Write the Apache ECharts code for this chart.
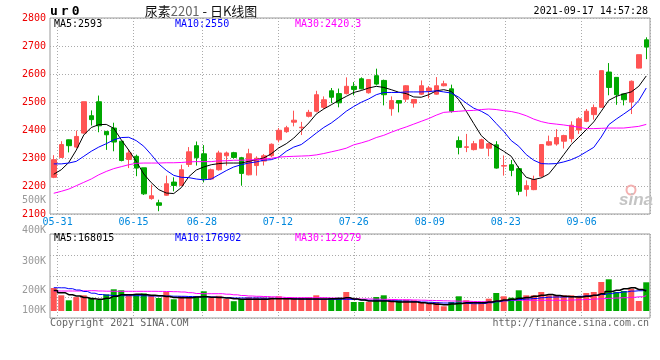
<!DOCTYPE html>
<html><head><meta charset="utf-8">
<script src="https://cdn.jsdelivr.net/npm/echarts@6/dist/echarts.min.js"></script>
<style>html,body{margin:0;padding:0;background:#fff}#c{width:660px;height:360px}</style>
</head><body><div id="c"></div>
<script>
// ---------- data ----------
const dates = ['05-28','05-31','06-01','06-02','06-03','06-04','06-07','06-08','06-09','06-10',
 '06-11','06-15','06-16','06-17','06-18','06-21','06-22','06-23','06-24','06-25',
 '06-28','06-29','06-30','07-01','07-02','07-05','07-06','07-07','07-08','07-09',
 '07-12','07-13','07-14','07-15','07-16','07-19','07-20','07-21','07-22','07-23',
 '07-26','07-27','07-28','07-29','07-30','08-02','08-03','08-04','08-05','08-06',
 '08-09','08-10','08-11','08-12','08-13','08-16','08-17','08-18','08-19','08-20',
 '08-23','08-24','08-25','08-26','08-27','08-30','08-31','09-01','09-02','09-03',
 '09-06','09-07','09-08','09-09','09-10','09-13','09-14','09-15','09-16','09-17'];
const gridDates = dates.slice(1);
const dateLabels = ['05-31','06-15','06-28','07-12','07-26','08-09','08-23','09-06'];

const opens = [2231,2302,2365,2339,2389,2451,2501,2395,2407,2360, 2295,2306,2265,2155,2140,2167,2214,2202,2277,2344,
 2315,2225,2258,2308,2319,2301,2240,2273,2289,2308, 2365,2394,2428,2408,2449,2467,2481,2540,2530,2530,
 2556,2583,2533,2594,2577,2476,2505,2510,2496,2528, 2540,2528,2558,2547,2362,2338,2330,2335,2335,2347,
 2271,2276,2262,2188,2187,2235,2346,2350,2360,2369, 2400,2431,2455,2481,2607,2588,2529,2500,2621,2722];
const closes = [2294,2348,2344,2377,2501,2437,2415,2383,2357,2291, 2318,2264,2172,2165,2131,2208,2202,2258,2322,2301,
 2226,2258,2318,2318,2302,2245,2315,2299,2308,2349, 2399,2408,2435,2410,2463,2526,2508,2517,2497,2556,
 2545,2547,2580,2564,2526,2505,2496,2558,2509,2558, 2550,2558,2565,2467,2338,2340,2351,2365,2351,2264,
 2273,2256,2181,2201,2223,2348,2358,2373,2380,2417, 2440,2467,2480,2612,2552,2526,2508,2574,2669,2696];
const lows = [2228,2300,2320,2335,2387,2416,2392,2329,2324,2288, 2264,2235,2168,2151,2110,2165,2181,2200,2268,2273,
 2213,2222,2255,2273,2298,2201,2238,2237,2273,2303, 2356,2390,2413,2382,2445,2463,2475,2496,2481,2527,
 2524,2545,2530,2560,2488,2451,2463,2500,2480,2525, 2513,2526,2556,2462,2313,2321,2327,2334,2306,2262,
 2237,2235,2167,2163,2185,2230,2344,2344,2334,2356, 2386,2428,2437,2480,2524,2490,2488,2457,2620,2653];
const highs = [2310,2360,2366,2398,2501,2470,2523,2395,2426,2360, 2330,2312,2265,2205,2151,2237,2231,2276,2339,2359,
 2346,2262,2326,2323,2322,2304,2333,2306,2314,2352, 2407,2415,2469,2429,2472,2540,2520,2550,2548,2588,
 2571,2588,2582,2619,2580,2520,2506,2560,2510,2577, 2557,2589,2576,2562,2377,2386,2361,2369,2353,2360,
 2309,2293,2270,2220,2237,2348,2380,2403,2383,2431, 2446,2475,2491,2612,2639,2589,2530,2577,2669,2731];

const ma5 = [2242,2258,2284,2328,2382,2409,2419,2420,2406,2365, 2328,2288,2243,2212,2187,2175,2173,2194,2233,2257,
 2268,2276,2280,2282,2282,2282,2288,2294,2300,2315, 2336,2351,2371,2398,2425,2457,2475,2490,2506,2520,
 2534,2541,2550,2556,2552,2544,2535,2530,2518,2517, 2526,2540,2544,2538,2508,2467,2423,2380,2356,2340,
 2324,2306,2264,2231,2223,2229,2243,2276,2312,2348, 2374,2401,2429,2467,2506,2520,2529,2536,2556,2593];
const ma10 = [2279,2279,2282,2288,2306,2324,2339,2351,2365,2373, 2374,2362,2342,2312,2279,2256,2238,2231,2230,2225,
 2222,2225,2240,2255,2268,2276,2282,2286,2292,2294, 2303,2324,2339,2348,2368,2389,2409,2425,2445,2467,
 2484,2499,2511,2526,2534,2534,2534,2536,2536,2536, 2537,2540,2536,2532,2517,2496,2478,2467,2452,2423,
 2395,2362,2342,2312,2292,2280,2279,2280,2286,2294, 2306,2322,2338,2375,2419,2439,2457,2476,2505,2550];
const ma30 = [2174,2181,2189,2201,2213,2225,2240,2252,2262,2269, 2276,2281,2282,2282,2282,2283,2283,2284,2286,2287,
 2287,2287,2290,2290,2292,2292,2293,2294,2296,2299, 2303,2305,2306,2307,2308,2311,2316,2322,2328,2335,
 2347,2354,2362,2373,2381,2392,2402,2411,2421,2431, 2441,2453,2463,2465,2467,2469,2470,2473,2475,2473,
 2469,2466,2460,2451,2439,2430,2424,2421,2418,2414, 2410,2405,2405,2406,2407,2407,2407,2410,2413,2420];

const volumes = [193200,131900,89900,116600,131900,111700,94000,140300,182300,173900,
 131900,138600,148000,134400,109200,159600,98300,123500,110900,117600,
 165500,109200,127700,100800,82300,100800,115100,113400,113400,115100,
 123500,105800,110900,110900,113400,131900,103300,105000,111700,159600,
 75600,75600,75600,117600,131900,94900,89900,94900,89900,75600,
 61300,75600,39500,75600,123500,89900,61300,75600,103300,151200,
 123500,111700,173900,131900,131900,159600,131900,131900,131900,131900,
 123500,151200,159600,243600,266300,159600,168000,187300,84000,241100];
const volMa5 = [172200,153700,136900,126000,113400,103300,98300,107500,124300,136100,
 136900,140300,136900,131900,128500,121800,113400,111700,111700,117600,
 119300,115900,113400,109200,103300,99100,98300,98300,98300,102500,
 103300,103300,100800,100800,100800,100800,100800,103300,105000,111700,
 100800,92400,84000,84000,84000,79800,75600,75600,75600,69700,
 63000,57100,52900,58800,63800,69700,69700,69700,75600,84000,
 92400,98300,106700,113400,123500,131900,138600,130200,123500,120100,
 117600,123500,131900,145300,163800,173900,187300,194900,180600,168000];
const volMa10 = [195700,194900,187300,176400,163800,149500,138600,132700,130200,128500,
 128500,128500,127700,126000,126000,126000,124300,123500,121800,120100,
 119300,117600,115100,111700,109200,109200,109200,109200,107500,106700,
 105000,103300,102500,100800,99100,98300,98300,98300,98300,98300,
 96600,92400,89900,89900,88200,85700,84000,82300,79800,75600,
 73100,68900,67200,67200,65500,63000,61300,63000,69700,78100,
 85700,92400,96600,100800,105000,111700,115900,117600,117600,120100,
 123500,127700,131900,138600,146000,154000,161000,167000,170000,176900];
const volMa30 = [168000,168000,168000,168000,169700,170500,168000,166300,165500,165500,
 165500,165500,165500,165500,164600,163800,162100,159600,153700,147000,
 145300,145300,145300,141100,136100,130200,126000,123500,121800,119300,
 115900,113400,111700,111700,111700,111700,111700,109200,107500,105000,
 102500,100800,100800,99100,98300,96600,94900,94100,92400,90700,
 89000,87400,85700,84000,82300,81500,79800,78100,79800,84000,
 87400,89900,89900,89900,89900,89900,89900,89900,89900,92400,
 94900,96600,100800,103300,106700,109200,111700,115100,119300,128000];

const volTickLabels = ['500K','400K','300K','200K','100K'];
const priceHeader = {ma5:'2593', ma10:'2550', ma30:'2420.3'};
const volHeader = {ma5:'168015', ma10:'176902', ma30:'129279'};
const stamp = '2021-09-17 14:57:28';

// ---------- style / layout ----------
const RED = '#ff5454', GREEN = '#00a800';
const FONT = '"DejaVu Sans Mono", monospace';
const GRIDLINE = {color:'#aaaaaa', width:1, type:[1,2]};
const volLabelY = [200, 230.5, 261.5, 290.5, 310];

const labelAt = (i, v) => dateLabels.indexOf(v) >= 0;
const lineAt = (i, v) => i > 0 && dateLabels.indexOf(gridDates[i - 1]) >= 0;

const candleData = opens.map((o, i) => [o, closes[i], lows[i], highs[i]]);
const volData = volumes.map((v, i) => ({value: v, itemStyle: {color: closes[i] >= opens[i] ? RED : GREEN}}));

function txt(x, y, text, fill, align, font, extra) {
  return {type:'text', x:x, y:y, silent:true, z:100,
    style: Object.assign({text:text, fill:fill, font:font || ('10px ' + FONT),
      textAlign: align || 'left', textVerticalAlign:'middle'}, extra || {})};
}

const graphics = [
  txt(50, 11.5, '{a|u}{a|r}{a|0}', '#000', 'left', 'bold 13px ' + FONT,
      {rich:{a:{font:'bold 13px ' + FONT, fill:'#000', padding:[0,3,0,0]}}}),
  txt(201, 11, '{b|尿素}{g|2201}{b| - 日K线图}', '#000', 'center', '13px "Noto Sans CJK SC"',
      {rich:{b:{font:'13px "Noto Sans CJK SC"', fill:'#111'}, g:{font:'13px "Noto Sans CJK SC"', fill:'#666'}}}),
  txt(648, 11.5, stamp, '#000', 'right'),
  txt(54, 24, 'MA5:' + priceHeader.ma5, '#000'),
  txt(175, 24, 'MA10:' + priceHeader.ma10, '#0000ff'),
  txt(295, 24, 'MA30:' + priceHeader.ma30, '#ff00ff'),
  txt(54, 238.5, 'MA5:' + volHeader.ma5, '#000'),
  txt(175, 238.5, 'MA10:' + volHeader.ma10, '#0000ff'),
  txt(295, 238.5, 'MA30:' + volHeader.ma30, '#ff00ff'),
  txt(50, 323.5, 'Copyright 2021 SINA.COM', '#666'),
  txt(649, 323.5, 'http://finance.sina.com.cn', '#666', 'right'),
  {type:'circle', silent:true, z:90, shape:{cx:631, cy:190, r:4.5}, style:{fill:'none', stroke:'#f4b0b0', lineWidth:2}},
  txt(636, 200, 'sina', '#c4c4c4', 'center', 'italic bold 17px "Liberation Sans"')
];
volTickLabels.forEach((t, k) => graphics.push(txt(46, volLabelY[k], t, '#999', 'right')));

const chart = echarts.init(document.getElementById('c'), null, {renderer:'canvas'});
chart.setOption({
  animation: false,
  backgroundColor: '#fff',
  grid: [
    {left:50, top:18, width:600, height:196, show:true, borderColor:'#999', borderWidth:1, backgroundColor:'transparent'},
    {left:50, top:234, width:600, height:77, show:false},
    {left:50, top:234, width:600, height:84, show:true, borderColor:'#999', borderWidth:1, backgroundColor:'transparent'}
  ],
  xAxis: [
    {type:'category', gridIndex:0, position:'top', data:dates, boundaryGap:true, show:false},
    {type:'category', gridIndex:0, position:'bottom', data:gridDates, boundaryGap:true,
      axisLine:{show:false}, axisTick:{show:false},
      axisLabel:{interval:labelAt, color:'#0088dd', fontFamily:FONT, fontSize:10, margin:3, padding:[0,0,0,7.6]},
      splitLine:{show:true, interval:lineAt, lineStyle:GRIDLINE}},
    {type:'category', gridIndex:1, position:'bottom', data:dates, boundaryGap:true, show:false},
    {type:'category', gridIndex:2, position:'bottom', data:gridDates, boundaryGap:true,
      axisLine:{show:false}, axisTick:{show:false}, axisLabel:{show:false},
      splitLine:{show:true, interval:lineAt, lineStyle:GRIDLINE}}
  ],
  yAxis: [
    {type:'value', gridIndex:0, min:2100, max:2800, interval:100,
      axisLine:{show:false}, axisTick:{show:false},
      axisLabel:{color:'#ee0000', fontFamily:FONT, fontSize:10, margin:4, padding:[0,0,3,0],
        formatter:(v) => String(v)},
      splitLine:{show:true, lineStyle:GRIDLINE}},
    {type:'value', gridIndex:1, min:0, max:646800, show:false, splitLine:{show:false}},
    {type:'value', gridIndex:2, min:0, max:84, interval:21,
      axisLine:{show:false}, axisTick:{show:false}, axisLabel:{show:false},
      splitLine:{show:true, lineStyle:GRIDLINE}}
  ],
  series: [
    {type:'candlestick', xAxisIndex:0, yAxisIndex:0, data:candleData, barWidth:5,
      itemStyle:{color:RED, color0:GREEN, borderColor:RED, borderColor0:GREEN, borderWidth:1}},
    {type:'line', xAxisIndex:0, yAxisIndex:0, data:ma5, symbol:'none', lineStyle:{color:'#000', width:1}},
    {type:'line', xAxisIndex:0, yAxisIndex:0, data:ma10, symbol:'none', lineStyle:{color:'#0000ff', width:1}},
    {type:'line', xAxisIndex:0, yAxisIndex:0, data:ma30, symbol:'none', lineStyle:{color:'#ff00ff', width:1}},
    {type:'bar', xAxisIndex:2, yAxisIndex:1, data:volData, barWidth:6},
    {type:'line', xAxisIndex:2, yAxisIndex:1, data:volMa30, symbol:'none', step:'middle', lineStyle:{color:'#ff00ff', width:1}},
    {type:'line', xAxisIndex:2, yAxisIndex:1, data:volMa10, symbol:'none', step:'middle', lineStyle:{color:'#0000ff', width:1}},
    {type:'line', xAxisIndex:2, yAxisIndex:1, data:volMa5, symbol:'none', step:'middle', lineStyle:{color:'#000', width:1.5}}
  ],
  graphic: graphics
});
</script></body></html>
